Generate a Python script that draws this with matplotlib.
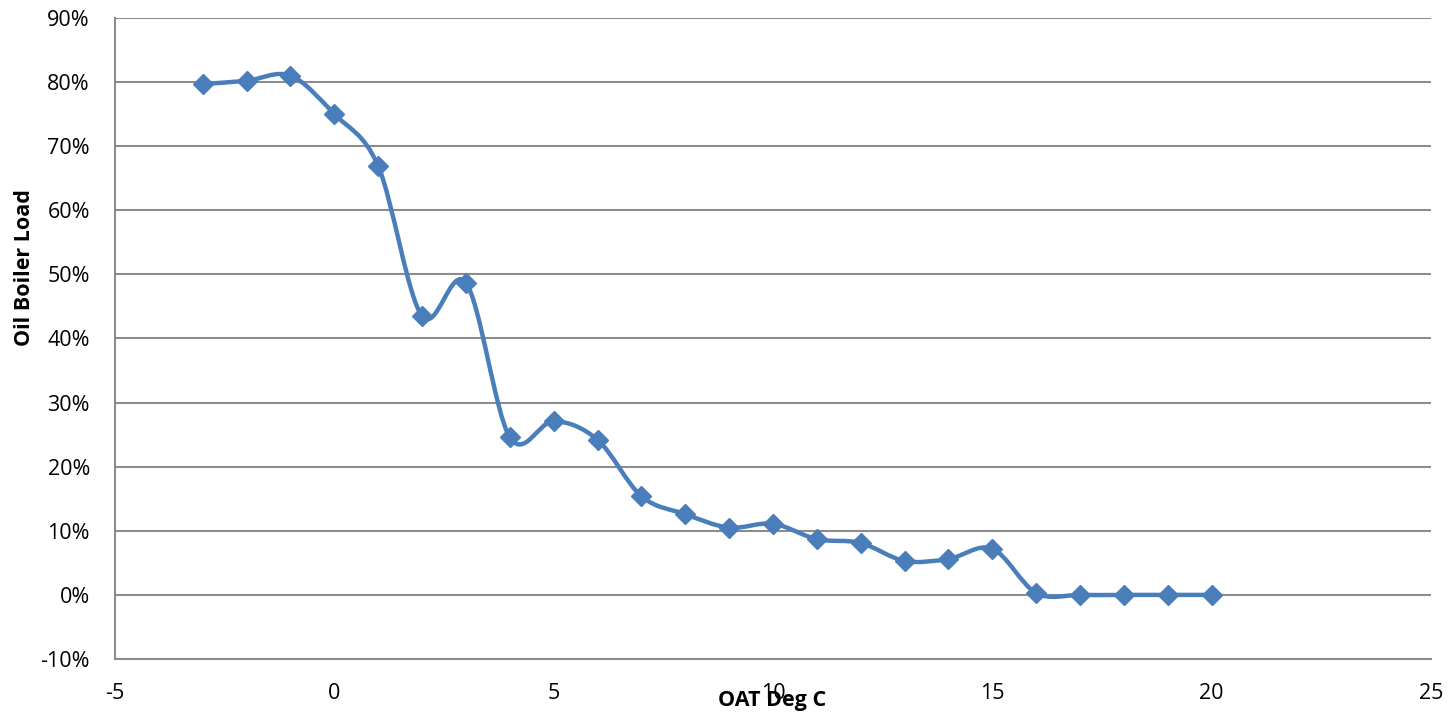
import numpy as np
import matplotlib.pyplot as plt
from matplotlib.path import Path
from matplotlib.patches import PathPatch
from matplotlib.ticker import FuncFormatter

# outside air temperature (deg C) and oil boiler load (fraction)
oat = [-3, -2, -1, 0, 1, 2, 3, 4, 5, 6, 7, 8, 9, 10, 11, 12, 13, 14, 15, 16, 17, 18, 19, 20]
load = [0.797, 0.802, 0.810, 0.750, 0.669, 0.435, 0.487, 0.246, 0.271, 0.242, 0.154, 0.126,
        0.105, 0.111, 0.087, 0.081, 0.053, 0.056, 0.072, 0.003, 0.0, 0.0, 0.0, 0.0]

x_ticks = [-5, 0, 5, 10, 15, 20, 25]
y_ticks = [-0.1, 0, 0.1, 0.2, 0.3, 0.4, 0.5, 0.6, 0.7, 0.8, 0.9]

blue = '#4a7ebb'
grid_grey = '#8c8c8c'

plt.rcParams['font.family'] = ['Open Sans', 'DejaVu Sans']
plt.rcParams['axes.unicode_minus'] = False


def smooth_path(xs, ys, t=1.0 / 6):
    # spreadsheet style smoothed line: cubic bezier through every point
    pts = np.column_stack([xs, ys]).astype(float)
    n = len(pts)
    verts = [pts[0]]
    codes = [Path.MOVETO]
    for i in range(n - 1):
        p0 = pts[i - 1] if i > 0 else pts[i]
        p1 = pts[i]
        p2 = pts[i + 1]
        p3 = pts[i + 2] if i + 2 < n else pts[i + 1]
        c1 = p1 + (p2 - p0) * t
        c2 = p2 - (p3 - p1) * t
        verts += [c1, c2, p2]
        codes += [Path.CURVE4] * 3
    return Path(verts, codes)


fig = plt.figure(figsize=(14.52, 7.16), dpi=100)
ax = fig.add_axes([0.0792, 0.0796, 0.9063, 0.8953])

ax.set_xlim(-5, 25)
ax.set_ylim(-0.1, 0.9)
ax.set_xticks(x_ticks)
ax.set_yticks(y_ticks)
ax.yaxis.set_major_formatter(FuncFormatter(lambda v, p: '{:.0f}%'.format(v * 100)))

ax.grid(axis='y', color=grid_grey, linewidth=1.5)
ax.set_axisbelow(True)
for side in ['top', 'right']:
    ax.spines[side].set_visible(False)
for side in ['left', 'bottom']:
    ax.spines[side].set_color(grid_grey)
    ax.spines[side].set_linewidth(1.5)
ax.tick_params(length=0, labelsize=15.5, colors='black')
ax.tick_params(axis='y', pad=18)
ax.tick_params(axis='x', pad=17)

# smoothed line plus diamond markers
ax.add_patch(PathPatch(smooth_path(oat, load), facecolor='none', edgecolor=blue,
                       linewidth=3.2, capstyle='round', joinstyle='round', zorder=3))
ax.plot(oat, load, linestyle='none', marker='D', markersize=10.5, color=blue, zorder=4)

# axis titles placed like the spreadsheet's own
fig.text(0.0172, 0.6257, 'Oil Boiler Load', rotation=90, ha='center', va='center',
         fontsize=15.5, fontweight='bold')
fig.text(0.532, 0.0223, 'OAT Deg C', ha='center', va='center',
         fontsize=15.5, fontweight='bold')

fig.savefig('out.png', dpi=100)
